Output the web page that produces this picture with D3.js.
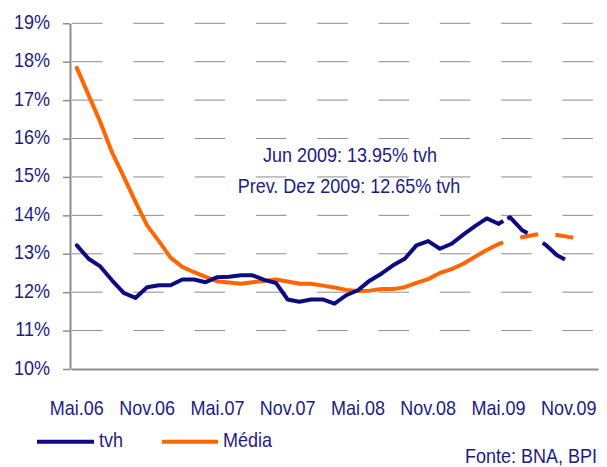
<!DOCTYPE html>
<html>
<head>
<meta charset="utf-8">
<title>tvh vs Média</title>
<script src="https://cdn.jsdelivr.net/npm/d3@7"></script>
<style>
  body { margin: 0; background: #fff; }
  svg text { font-family: "Liberation Sans", Arial, sans-serif; fill: #1c1c80; }
</style>
</head>
<body>
<div id="chart"></div>
<script>
// months on the category axis (last one is empty padding)
var months = ["Mai.06","Jun.06","Jul.06","Ago.06","Set.06","Out.06","Nov.06","Dez.06",
  "Jan.07","Fev.07","Mar.07","Abr.07","Mai.07","Jun.07","Jul.07","Ago.07","Set.07","Out.07","Nov.07","Dez.07",
  "Jan.08","Fev.08","Mar.08","Abr.08","Mai.08","Jun.08","Jul.08","Ago.08","Set.08","Out.08","Nov.08","Dez.08",
  "Jan.09","Fev.09","Mar.09","Abr.09","Mai.09","Jun.09","Jul.09","Ago.09","Set.09","Out.09","Nov.09","Dez.09",
  "Jan.10"];
var tickLabels = ["Mai.06","Nov.06","Mai.07","Nov.07","Mai.08","Nov.08","Mai.09","Nov.09"];
var yTicks = [10, 11, 12, 13, 14, 15, 16, 17, 18, 19];

// tvh, % (May 06 .. Dec 09)
var tvh = [13.22, 12.87, 12.67, 12.31, 11.98, 11.85, 12.13, 12.18, 12.18, 12.33,
  12.33, 12.26, 12.39, 12.40, 12.44, 12.44, 12.32, 12.24, 11.81, 11.75,
  11.81, 11.81, 11.70, 11.92, 12.05, 12.30, 12.48, 12.70, 12.87, 13.22,
  13.33, 13.13, 13.26, 13.50, 13.72, 13.92, 13.78, 13.95, 13.62, 13.44,
  13.24, 12.96, 12.80, 12.65];
// Média, %
var media = [17.84, 17.13, 16.43, 15.64, 15.01, 14.36, 13.74, 13.33, 12.90, 12.66,
  12.52, 12.40, 12.28, 12.25, 12.22, 12.26, 12.29, 12.33, 12.28, 12.22,
  12.22, 12.17, 12.12, 12.06, 12.03, 12.04, 12.08, 12.08, 12.13, 12.24,
  12.34, 12.50, 12.60, 12.74, 12.92, 13.10, 13.25, 13.36, 13.43, 13.49,
  13.53, 13.49, 13.44, 13.40];
var forecastFrom = "Mai.09";

var width = 607, height = 467;
var blue = "#0c0c80", orange = "#ff6600", grey = "#8c8c8c";
var sx = 0.9; // text is drawn a little narrow

var svg = d3.select("#chart").append("svg")
  .attr("width", width).attr("height", height);

var x = d3.scaleBand().domain(months).range([71, 598]);
var y = d3.scaleLinear().domain([10, 19]).range([369, 23.3]);
var cx = function(m) { return x(m) + x.bandwidth() / 2; };

// dashed grid
svg.append("g").selectAll("line")
  .data(yTicks.slice(1))
  .enter().append("line")
  .attr("x1", 72).attr("x2", 598)
  .attr("y1", function(d) { return y(d); })
  .attr("y2", function(d) { return y(d); })
  .attr("stroke", grey).attr("stroke-width", 1)
  .attr("stroke-dasharray", "30.5 30.8");

// y axis
var yAxis = d3.axisLeft(y)
  .tickValues(yTicks)
  .tickSize(7).tickSizeOuter(0)
  .tickFormat(function(d) { return d + "%"; });
var gy = svg.append("g").attr("transform", "translate(70,0)").call(yAxis);
gy.select(".domain").attr("stroke", grey).attr("stroke-width", 2);
gy.selectAll(".tick line").attr("stroke", grey).attr("stroke-width", 1.5);
gy.selectAll(".tick text")
  .attr("x", -20 / sx).attr("dy", 5)
  .attr("transform", "scale(" + sx + ",1)")
  .style("font-size", "20px").attr("fill", "#1c1c80");

// x axis
var xAxis = d3.axisBottom(x).tickValues(tickLabels).tickSize(0).tickSizeOuter(0);
var gx = svg.append("g").attr("transform", "translate(0,369)").call(xAxis);
gx.select(".domain").attr("stroke", grey).attr("stroke-width", 2);
gx.selectAll(".tick text")
  .attr("y", 46).attr("dy", 0)
  .attr("transform", "scale(" + sx + ",1)")
  .style("font-size", "20px").attr("fill", "#1c1c80");
gx.selectAll(".tick").attr("transform", function(d) { return "translate(" + cx(d) + ",0)"; });

// lines
var line = d3.line()
  .x(function(d) { return cx(d.m); })
  .y(function(d) { return y(d.v); });

function drawSeries(values, color, dash) {
  var pts = values.map(function(v, i) { return { m: months[i], v: v }; });
  var k = months.indexOf(forecastFrom);
  svg.append("path").datum(pts.slice(0, k + 1))
    .attr("d", line).attr("fill", "none")
    .attr("stroke", color).attr("stroke-width", 4)
    .attr("stroke-linejoin", "round").attr("stroke-linecap", "round");
  svg.append("path").datum(pts.slice(k))
    .attr("d", line).attr("fill", "none")
    .attr("stroke", color).attr("stroke-width", 4)
    .attr("stroke-linejoin", "round").attr("stroke-linecap", "butt")
    .attr("stroke-dasharray", dash);
}
drawSeries(media, orange, "5 17.7 18.3 17.4 18 18");
drawSeries(tvh, blue, "5.6 4.6 27 18 28 18");

function label(txt, px, py, anchor) {
  svg.append("text")
    .attr("transform", "translate(" + px + "," + py + ") scale(" + sx + ",1)")
    .attr("text-anchor", anchor || "start")
    .style("font-size", "20px")
    .text(txt);
}

// annotation
label("Jun 2009: 13.95% tvh", 350, 161.7, "middle");
label("Prev. Dez 2009: 12.65% tvh", 349, 193.3, "middle");

// legend
var legend = [
  { name: "tvh", color: blue, x1: 37, x2: 94, tx: 99 },
  { name: "Média", color: orange, x1: 162, x2: 218, tx: 223 }
];
legend.forEach(function(l) {
  svg.append("line")
    .attr("x1", l.x1).attr("x2", l.x2).attr("y1", 441.7).attr("y2", 441.7)
    .attr("stroke", l.color).attr("stroke-width", 4);
  label(l.name, l.tx, 446.7);
});

label("Fonte: BNA, BPI", 597, 463, "end");
</script>
</body>
</html>
